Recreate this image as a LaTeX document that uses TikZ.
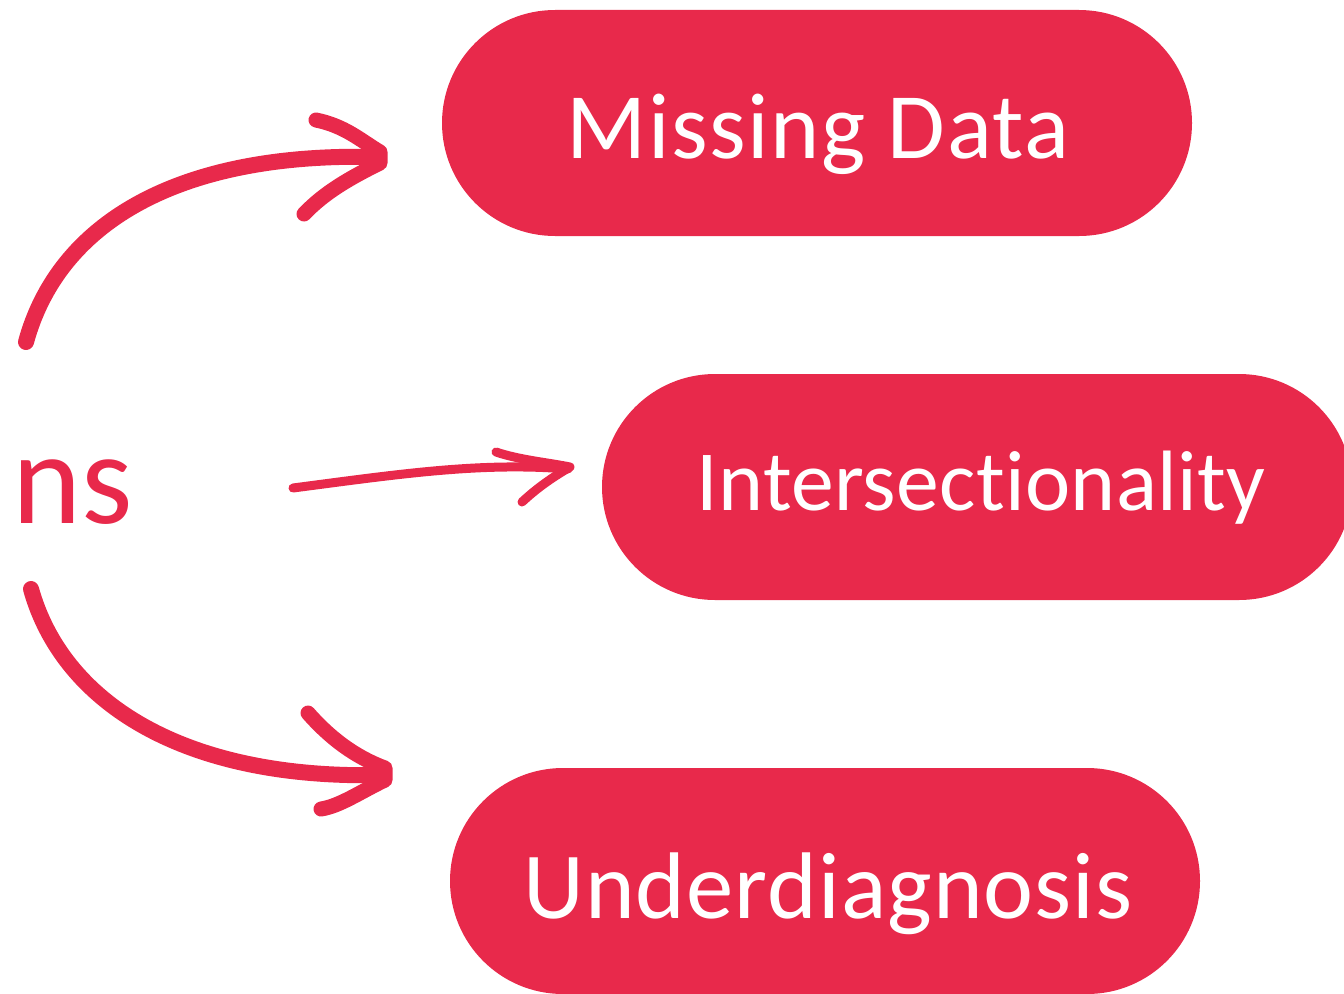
\documentclass[tikz,border=0pt]{standalone}
\usepackage{fontspec}
\setmainfont{Carlito}[Ligatures={NoCommon}]
\definecolor{pillred}{RGB}{232,41,75}
\begin{document}
\begin{tikzpicture}[x=1bp,y=-1bp,
  pill/.style={fill=pillred, rounded corners=113bp, minimum width=750bp, minimum height=226bp, inner sep=0pt, draw=none},
  lab/.style={text=white, anchor=base, inner sep=0pt},
  shaft/.style={draw=pillred, line width=16bp, line cap=round},
  thinshaft/.style={draw=pillred, line width=9bp, line cap=round},
  barb/.style={draw=pillred, line width=15bp, line cap=round, line join=round},
  thinbarb/.style={draw=pillred, line width=9bp, line cap=round, line join=round}]
\useasboundingbox (0,0) rectangle (1344,993);

% pills
\node[pill] (p1) at (817,123) {};
\node[pill] (p2) at (977,487) {};
\node[pill] (p3) at (825,881) {};
\node[lab, font=\fontsize{94}{94}\selectfont\addfontfeature{LetterSpace=1.6}] (t1) at (818,158) {Missing Data};
\node[lab, font=\fontsize{86}{86}\selectfont\addfontfeature{LetterSpace=0.4}] (t2) at (981,510) {Intersectionality};
\node[lab, font=\fontsize{95}{95}\selectfont\addfontfeature{LetterSpace=1.1}] (t3) at (828,918) {Underdiagnosis};

% left text
\node[anchor=base east, inner sep=0pt, text=pillred, font=\fontsize{132}{132}\selectfont] (ns) at (133,523) {ns};

% top arrow
\coordinate (a1s) at (26,342);
\coordinate (a1e) at (377,157);
\coordinate (a1u) at (316,120);
\coordinate (a1d) at (304,214);
\draw[shaft] (a1s) .. controls (58,225) and (175,152) .. (a1e);
\draw[barb] (a1u) .. controls (345,126) and (360,140) .. (380,152) -- (380,163) .. controls (350,178) and (325,192) .. (a1d);

% middle arrow
\coordinate (a2s) at (293,488);
\coordinate (a2e) at (568,469);
\coordinate (a2u) at (496,452);
\coordinate (a2d) at (522,502);
\draw[thinshaft] (a2s) .. controls (400,474) and (480,462) .. (a2e);
\draw[thinbarb] (a2u) .. controls (520,460) and (545,462) .. (570,467) .. controls (548,480) and (535,490) .. (a2d);

% bottom arrow
\coordinate (a3s) at (31,589);
\coordinate (a3e) at (383,775);
\coordinate (a3u) at (308,713);
\coordinate (a3d) at (321,809);
\draw[shaft] (a3s) .. controls (62,700) and (180,780) .. (a3e);
\draw[barb] (a3u) .. controls (330,738) and (355,757) .. (385,768) -- (385,780) .. controls (360,792) and (340,806) .. (a3d);
\end{tikzpicture}
\end{document}
